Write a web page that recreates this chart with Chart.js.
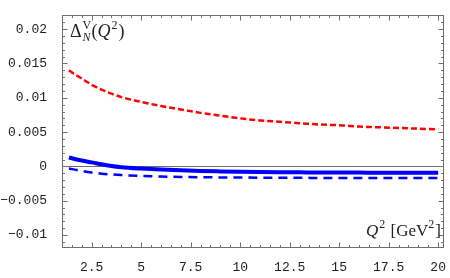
<!DOCTYPE html>
<html>
<head>
<meta charset="utf-8">
<script src="https://cdn.jsdelivr.net/npm/chart.js@4/dist/chart.umd.min.js"></script>
<style>
  html, body { margin: 0; padding: 0; background: #fff; }
  #wrap { width: 450px; height: 278px; position: relative; }
</style>
</head>
<body>
<div id="wrap"><canvas id="c"></canvas></div>
<script>
// valores leídos a ojo de la figura
const q2 = [1.35, 1.5, 2, 2.5, 3, 3.5, 4, 5, 6, 7, 8, 9, 10, 11, 12, 13, 14, 15, 16, 17, 18, 19, 20];
const redDashed = [0.0140, 0.0137, 0.0128, 0.0119, 0.0112, 0.0106, 0.0101, 0.0094, 0.0088, 0.0083, 0.0078, 0.0074,
  0.0070, 0.0067, 0.0065, 0.0063, 0.0061, 0.0060, 0.0058, 0.0057, 0.0056, 0.0055, 0.0054];
const blueSolid = [0.0013, 0.00118, 0.00085, 0.00058, 0.00030, 0.00005, -0.00012, -0.00032, -0.00047, -0.00058,
  -0.00067, -0.00073, -0.00078, -0.00082, -0.00085, -0.00087, -0.00089, -0.0009, -0.00091, -0.00092, -0.00092,
  -0.00093, -0.00093];
const blueDashed = [-0.0003, -0.0004, -0.00068, -0.0009, -0.00106, -0.00118, -0.00127, -0.0014, -0.00148, -0.00154,
  -0.00158, -0.00161, -0.00163, -0.00165, -0.00166, -0.00167, -0.00168, -0.00168, -0.00169, -0.00169, -0.0017,
  -0.0017, -0.0017];

const xTicks = [2.5, 5, 7.5, 10, 12.5, 15, 17.5, 20];
const xTickLabels = ['2.5', '5', '7.5', '10', '12.5', '15', '17.5', '20'];
const yTicks = [-0.01, -0.005, 0, 0.005, 0.01, 0.015, 0.02];
const yTickLabels = ['\u22120.01', '\u22120.005', '0', '0.005', '0.01', '0.015', '0.02'];

const FRAME = '#6e6e6e';
const serif = '"Liberation Serif", "DejaVu Serif", serif';

const pts = arr => q2.map((x, i) => ({ x, y: arr[i] }));

// dibuja texto compuesto por trozos (sub/superíndices) empezando en x
function drawRich(ctx, x, y, parts) {
  parts.forEach(p => {
    ctx.font = p.font;
    ctx.fillText(p.t, x + (p.dx || 0), y + (p.dy || 0));
    if (!p.noAdvance) x += ctx.measureText(p.t).width + (p.dx || 0);
  });
}

// marco completo con marcas hacia dentro, estilo Mathematica
const framePlugin = {
  id: 'frame',
  beforeDatasetsDraw(chart) {
    const { ctx, chartArea: a, scales: { y } } = chart;
    ctx.save();
    ctx.strokeStyle = FRAME;
    ctx.lineWidth = 1;
    const y0 = Math.round(y.getPixelForValue(0)) + 0.5;
    ctx.beginPath(); ctx.moveTo(a.left, y0); ctx.lineTo(a.right, y0); ctx.stroke();
    ctx.restore();
  },
  afterDraw(chart) {
    const { ctx, chartArea: a, scales: { x, y } } = chart;
    ctx.save();
    ctx.strokeStyle = FRAME;
    ctx.lineWidth = 1;
    const L = Math.round(a.left) + 0.5, R = Math.round(a.right) - 0.5;
    const T = Math.round(a.top) + 0.5, B = Math.round(a.bottom) - 0.5;
    ctx.strokeRect(L, T, R - L, B - T);

    ctx.beginPath();
    // x: mayores cada 2.5, menores cada 0.5
    for (let v = 1; v <= 20.3 + 1e-9; v += 0.5) {
      const px = Math.round(x.getPixelForValue(v)) + 0.5;
      const major = Math.abs(v / 2.5 - Math.round(v / 2.5)) < 1e-6;
      const len = major ? 5 : 2.5;
      ctx.moveTo(px, B); ctx.lineTo(px, B - len);
      ctx.moveTo(px, T); ctx.lineTo(px, T + len);
    }
    // y: mayores cada 0.005, menores cada 0.001
    for (let k = -11; k <= 22; k++) {
      const v = k * 0.001;
      const py = Math.round(y.getPixelForValue(v)) + 0.5;
      const len = (k % 5 === 0) ? 5 : 2.5;
      ctx.moveTo(L, py); ctx.lineTo(L + len, py);
      ctx.moveTo(R, py); ctx.lineTo(R - len, py);
    }
    ctx.stroke();

    // etiquetas dentro del marco
    ctx.fillStyle = '#222';
    ctx.textBaseline = 'alphabetic';
    const big = `18px ${serif}`, bigI = `italic 18px ${serif}`;
    const sm = `12px ${serif}`, smI = `italic 12px ${serif}`;
    drawRich(ctx, 70, 37, [
      { t: '\u0394', font: big },
      { t: 'V', font: sm, dy: -8, dx: 1, noAdvance: true },
      { t: 'N', font: smI, dy: 4, dx: 1 },
      { t: '(', font: big, dx: 1 },
      { t: 'Q', font: bigI },
      { t: '2', font: sm, dy: -8, dx: 1 },
      { t: ')', font: big, dx: 1 },
    ]);
    const mid = `17px ${serif}`, midI = `italic 17px ${serif}`;
    drawRich(ctx, 366, 236, [
      { t: 'Q', font: midI },
      { t: '2', font: sm, dy: -8, dx: 1 },
      { t: ' [GeV', font: mid, dx: 1 },
      { t: '2', font: sm, dy: -8 },
      { t: ']', font: mid, dx: 1 },
    ]);
    ctx.restore();
  }
};

const mono = { family: '"Liberation Mono", "DejaVu Sans Mono", monospace', size: 13 };

new Chart(document.getElementById('c'), {
  type: 'line',
  data: {
    datasets: [
      { data: pts(redDashed), borderColor: '#ff0000', borderWidth: 2.5, borderDash: [6, 3] },
      { data: pts(blueDashed), borderColor: '#0000ff', borderWidth: 2.5, borderDash: [9, 6] },
      { data: pts(blueSolid), borderColor: '#0000ff', borderWidth: 4 },
    ],
  },
  options: {
    responsive: true,
    maintainAspectRatio: false,
    animation: false,
    events: [],
    layout: { padding: { top: 11, right: 2, left: 0, bottom: 0 } },
    elements: {
      point: { radius: 0 },
      line: { cubicInterpolationMode: 'monotone', fill: false },
    },
    plugins: { legend: { display: false }, tooltip: { enabled: false } },
    scales: {
      x: {
        type: 'linear', min: 1, max: 20.3,
        grid: { display: false }, border: { display: false },
        afterBuildTicks: s => { s.ticks = xTicks.map(v => ({ value: v })); },
        afterFit: s => { s.height = 30; },
        ticks: {
          autoSkip: false, maxRotation: 0, padding: 4, color: '#222', font: mono,
          callback: v => xTickLabels[xTicks.indexOf(v)],
        },
      },
      y: {
        min: -0.0119, max: 0.0221,
        grid: { display: false }, border: { display: false },
        afterBuildTicks: s => { s.ticks = yTicks.map(v => ({ value: v })); },
        afterFit: s => { s.width = 62; },
        ticks: {
          padding: 7, color: '#222', font: mono,
          callback: v => yTickLabels[yTicks.findIndex(t => Math.abs(t - v) < 1e-9)],
        },
      },
    },
  },
  plugins: [framePlugin],
});
</script>
</body>
</html>
